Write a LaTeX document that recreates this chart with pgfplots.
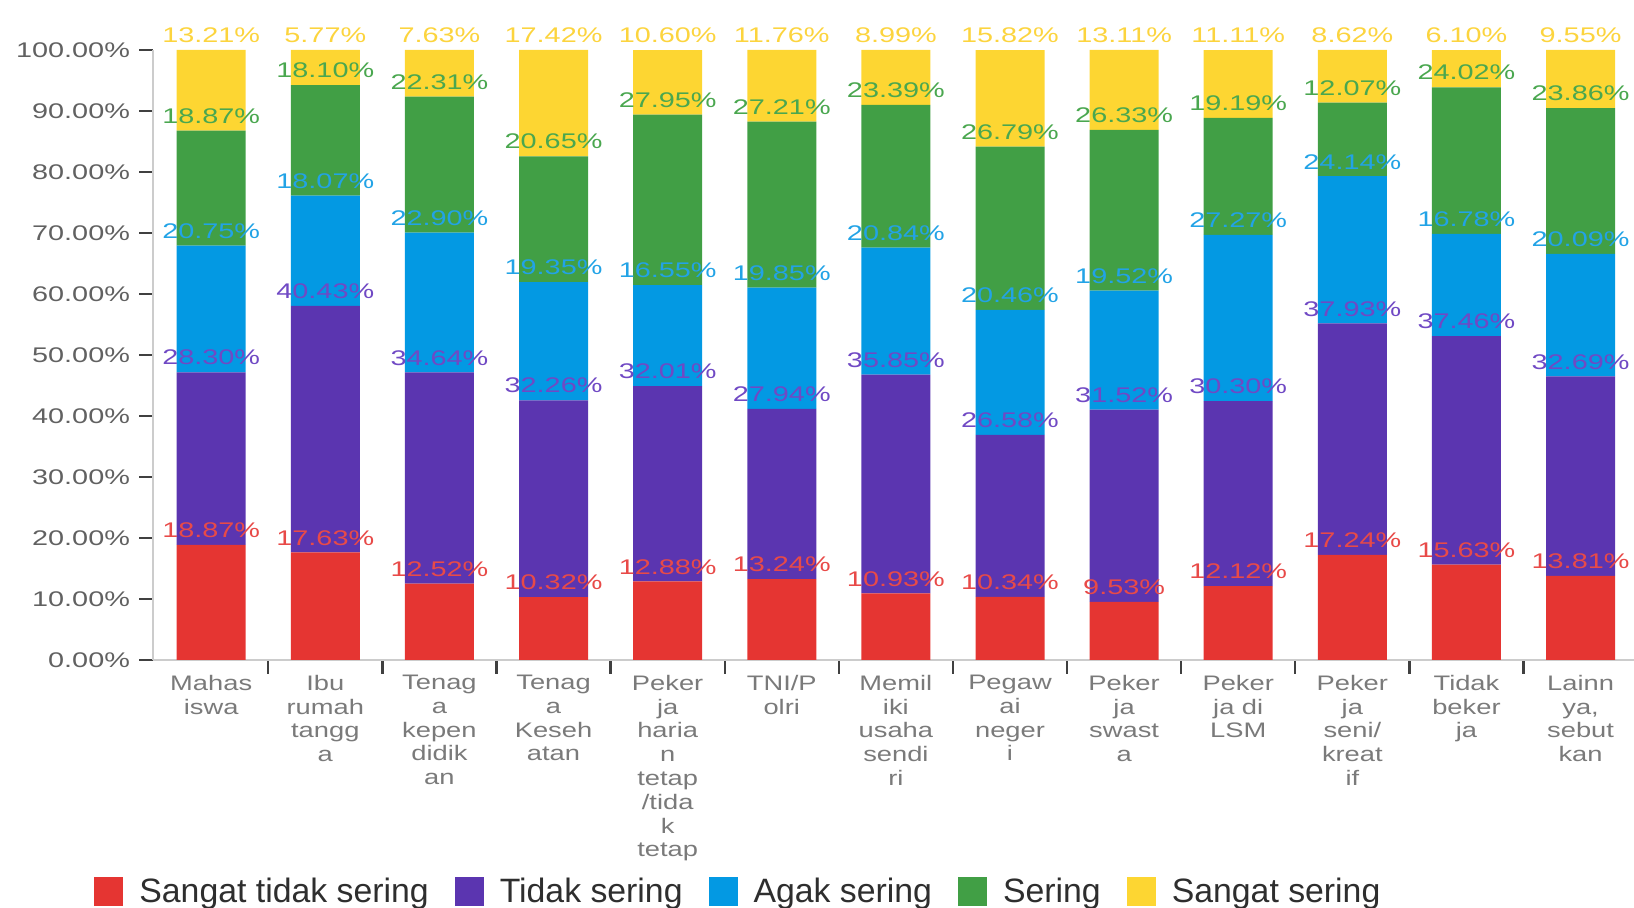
\documentclass[border=0pt]{standalone}
\usepackage{pgfplots}
\pgfplotsset{compat=1.18}
\usepackage{pgfplotstable}
\usepackage{fontspec}
\setmainfont{Liberation Sans}
\newfontfamily\widefont{Liberation Sans}[FakeStretch=1.3]
\newfontfamily\numfont{Liberation Sans}[FakeStretch=1.36]

\definecolor{fRed}{HTML}{E53532}
\definecolor{fPur}{HTML}{5B35B0}
\definecolor{fBlu}{HTML}{0399E3}
\definecolor{fGrn}{HTML}{419F45}
\definecolor{fYel}{HTML}{FDD632}
\definecolor{tRed}{HTML}{E84A48}
\definecolor{tPur}{HTML}{7049C4}
\definecolor{tBlu}{HTML}{22A3E6}
\definecolor{tGrn}{HTML}{4AA74F}
\definecolor{tYel}{HTML}{FCD43E}

% columns: a = sangat tidak sering ... e = sangat sering
\pgfplotstableread{
x a b c d e
0 18.87 28.30 20.75 18.87 13.21
1 17.63 40.43 18.07 18.10 5.77
2 12.52 34.64 22.90 22.31 7.63
3 10.32 32.26 19.35 20.65 17.42
4 12.88 32.01 16.55 27.95 10.60
5 13.24 27.94 19.85 27.21 11.76
6 10.93 35.85 20.84 23.39 8.99
7 10.34 26.58 20.46 26.79 15.82
8 9.53 31.52 19.52 26.33 13.11
9 12.12 30.30 27.27 19.19 11.11
10 17.24 37.93 24.14 12.07 8.62
11 15.63 37.46 16.78 24.02 6.10
12 13.81 32.69 20.09 23.86 9.55
}\survey

\pgfplotsset{
  frame/.style={
    at={(0pt,0pt)}, anchor=south west,
    scale only axis, width=740.6pt, height=305pt,
    xmin=-0.51, xmax=12.47, ymin=0, ymax=100,
    clip=false,
  },
}

\begin{document}
\begin{tikzpicture}
\useasboundingbox (-76.5pt,-124pt) rectangle (740.5pt,330pt);

\begin{axis}[
  frame,
  ybar stacked, bar width=34.5pt,
  axis x line*=bottom, axis y line*=left,
  axis line style={draw=black!20, line width=1pt},
  tick align=outside, major tick length=7pt,
  tick style={draw=black!75, line width=1.2pt},
  ytick={0,10,...,100},
  /pgf/number format/assume math mode=true,
  yticklabel={\pgfmathprintnumber[fixed,fixed zerofill,precision=2]{\tick}\%},
  y tick label style={font=\numfont\fontsize{10.6}{12}\selectfont, text=black!62, xshift=-1pt},
  xtick={0.5,1.5,...,11.5}, xticklabels={},
  extra x ticks={0,1,...,12},
  extra x tick labels={{Mahas\\iswa},{Ibu\\rumah\\tangg\\a},{Tenag\\a\\kepen\\didik\\an},{Tenag\\a\\Keseh\\atan},{Peker\\ja\\haria\\n\\tetap\\/tida\\k\\tetap},{TNI/P\\olri},{Memil\\iki\\usaha\\sendi\\ri},{Pegaw\\ai\\neger\\i},{Peker\\ja\\swast\\a},{Peker\\ja di\\LSM},{Peker\\ja\\seni/\\kreat\\if},{Tidak\\beker\\ja},{Lainn\\ya,\\sebut\\kan}},
  extra x tick style={major tick length=0pt},
  x tick label style={font=\widefont\fontsize{10.5}{11.9}\selectfont, text=black!52, align=center, yshift=-4pt},
  legend columns=-1,
  legend image code/.code={\fill[#1] (0pt,-7.25pt) rectangle (14.5pt,7.25pt);},
  legend style={at={(axis description cs:0,0)}, anchor=west, xshift=-29.5pt, yshift=-116pt,
    draw=none, fill=none, inner sep=0pt, text=black!82,
    font=\fontsize{16.9}{18}\selectfont,
    /tikz/every odd column/.append style={column sep=6pt},
    /tikz/every even column/.append style={column sep=11pt}},
]
\addplot[fill=fRed, draw=none] table[x=x, y=a]{\survey};
\addplot[fill=fPur, draw=none] table[x=x, y=b]{\survey};
\addplot[fill=fBlu, draw=none] table[x=x, y=c]{\survey};
\addplot[fill=fGrn, draw=none] table[x=x, y=d]{\survey};
\addplot[fill=fYel, draw=none] table[x=x, y=e]{\survey};
\legend{Sangat tidak sering, Tidak sering, Agak sering, Sering, Sangat sering}
\end{axis}

% second pass: value labels at the top edge of every segment, drawn above all bars
\begin{axis}[
  frame, hide axis,
  point meta=explicit symbolic,
  nodes near coords={\pgfplotspointmeta\%},
  every node near coord/.append style={font=\numfont\fontsize{10.6}{12}\selectfont, anchor=south},
]
\addplot[draw=none, mark=none, nodes near coords style={text=tRed}]
  table[x=x, y=a, meta=a]{\survey};
\addplot[draw=none, mark=none, nodes near coords style={text=tPur}]
  table[x=x, y expr=\thisrow{a}+\thisrow{b}, meta=b]{\survey};
\addplot[draw=none, mark=none, nodes near coords style={text=tBlu}]
  table[x=x, y expr=\thisrow{a}+\thisrow{b}+\thisrow{c}, meta=c]{\survey};
\addplot[draw=none, mark=none, nodes near coords style={text=tGrn}]
  table[x=x, y expr=\thisrow{a}+\thisrow{b}+\thisrow{c}+\thisrow{d}, meta=d]{\survey};
\addplot[draw=none, mark=none, nodes near coords style={text=tYel}]
  table[x=x, y expr=\thisrow{a}+\thisrow{b}+\thisrow{c}+\thisrow{d}+\thisrow{e}, meta=e]{\survey};
\end{axis}
\end{tikzpicture}
\end{document}
